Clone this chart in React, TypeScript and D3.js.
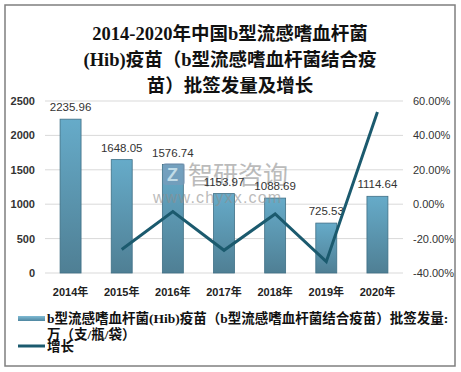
import React from "react";
import * as d3 from "d3";

const years = ["2014年", "2015年", "2016年", "2017年", "2018年", "2019年", "2020年"];
const volumes = [2235.96, 1648.05, 1576.74, 1153.97, 1088.69, 725.53, 1114.64];
const growth = [null, -26.3, -4.3, -26.8, -5.7, -33.4, 53.6];
const leftTicks = [0, 500, 1000, 1500, 2000, 2500];
const rightTicks = [-40, -20, 0, 20, 40, 60];
const titleLines = [
  "2014-2020年中国b型流感嗜血杆菌",
  "(Hib)疫苗（b型流感嗜血杆菌结合疫",
  "苗）批签发量及增长",
];

const W = 461;
const H = 372;
const plot = { left: 45, right: 403, top: 101, bottom: 273 };

export default function App() {
  const x = d3
    .scaleBand<string>()
    .domain(years)
    .range([plot.left, plot.right])
    .paddingInner(0.59)
    .paddingOuter(0.295);
  const yL = d3.scaleLinear().domain([0, 2500]).range([plot.bottom, plot.top]);
  const yR = d3.scaleLinear().domain([-40, 60]).range([plot.bottom, plot.top]);

  const pts = years
    .map((yr, i) => ({ yr, v: growth[i] }))
    .filter((d) => d.v !== null) as { yr: string; v: number }[];
  const line = d3
    .line<{ yr: string; v: number }>()
    .x((d) => (x(d.yr) as number) + x.bandwidth() / 2)
    .y((d) => yR(d.v));

  const sans = "'Liberation Sans', Arial, 'Noto Sans CJK SC', sans-serif";
  const serif = "'Liberation Serif', 'Noto Sans CJK SC', serif";

  return (
    <svg
      width={W}
      height={H}
      style={{ position: "absolute", left: 0, top: 0, background: "#fff" }}
    >
      <defs>
        <linearGradient id="barGrad" x1="0" y1="0" x2="0" y2="1">
          <stop offset="0%" stopColor="#66abc9" />
          <stop offset="100%" stopColor="#4f7f94" />
        </linearGradient>
        <linearGradient id="legGrad" x1="0" y1="0" x2="0" y2="1">
          <stop offset="0%" stopColor="#7fbbd4" />
          <stop offset="100%" stopColor="#4f86a0" />
        </linearGradient>
      </defs>

      <rect x={5} y={5} width={450} height={361} fill="#fff" stroke="#7f7f7f" strokeWidth={1.5} />

      {titleLines.map((t, i) => (
        <text
          key={t}
          x={230}
          y={40 + i * 26}
          textAnchor="middle"
          fontFamily={serif}
          fontWeight="bold"
          fontSize={18.5}
          fill="#111"
        >
          {t}
        </text>
      ))}

      {leftTicks.map((t) => (
        <line
          key={t}
          x1={plot.left}
          x2={plot.right}
          y1={yL(t)}
          y2={yL(t)}
          stroke="#d9d9d9"
          strokeWidth={1}
        />
      ))}

      {leftTicks.map((t) => (
        <text
          key={t}
          x={35}
          y={yL(t) + 4}
          textAnchor="end"
          fontFamily={sans}
          fontWeight="bold"
          fontSize={11}
          fill="#333"
        >
          {t}
        </text>
      ))}

      {rightTicks.map((t) => (
        <text
          key={t}
          x={413}
          y={yR(t) + 4}
          fontFamily={sans}
          fontSize={11}
          fill="#333"
        >
          {t.toFixed(2) + "%"}
        </text>
      ))}

      {years.map((yr, i) => (
        <rect
          key={yr}
          x={x(yr)}
          y={yL(volumes[i])}
          width={x.bandwidth()}
          height={yL(0) - yL(volumes[i])}
          fill="url(#barGrad)"
          stroke="#3f6f85"
          strokeWidth={0.8}
        />
      ))}

      {/* watermark */}
      <g opacity={0.6}>
        <rect x={163} y={163} width={22} height={22} rx={3} fill="#7d9bba" />
        <text x={167} y={181} fontFamily={sans} fontWeight="bold" fontSize={18} fill="#fff">
          Z
        </text>
        <text x={188} y={184} fontFamily={sans} fontSize={25} fill="#8f8f8f">
          智研咨询
        </text>
        <text x={153} y={203} fontFamily={sans} fontSize={16} letterSpacing={1.2} fill="#8f8f8f">
          www.chyxx.com
        </text>
      </g>

      {years.map((yr, i) => (
        <text
          key={yr}
          x={(x(yr) as number) + x.bandwidth() / 2}
          y={yL(volumes[i]) - 8}
          textAnchor="middle"
          fontFamily={sans}
          fontSize={11.5}
          fill="#333"
        >
          {volumes[i].toFixed(2)}
        </text>
      ))}

      <path d={line(pts) || ""} fill="none" stroke="#1b5a6e" strokeWidth={3} />

      {years.map((yr) => (
        <text
          key={yr}
          x={(x(yr) as number) + x.bandwidth() / 2}
          y={296}
          textAnchor="middle"
          fontFamily={sans}
          fontWeight="bold"
          fontSize={11}
          fill="#222"
        >
          {yr}
        </text>
      ))}

      <rect x={18} y={316} width={27} height={5} fill="url(#legGrad)" />
      <text x={47} y={323} fontFamily={serif} fontWeight="bold" fontSize={13.5} fill="#111">
        b型流感嗜血杆菌(Hib)疫苗（b型流感嗜血杆菌结合疫苗）批签发量:
      </text>
      <text x={47} y={339} fontFamily={serif} fontWeight="bold" fontSize={13.5} fill="#111">
        万（支/瓶/袋）
      </text>
      <line x1={18} x2={45} y1={346} y2={346} stroke="#1b5a6e" strokeWidth={3} />
      <text x={47} y={351} fontFamily={serif} fontWeight="bold" fontSize={13.5} fill="#111">
        增长
      </text>
    </svg>
  );
}
